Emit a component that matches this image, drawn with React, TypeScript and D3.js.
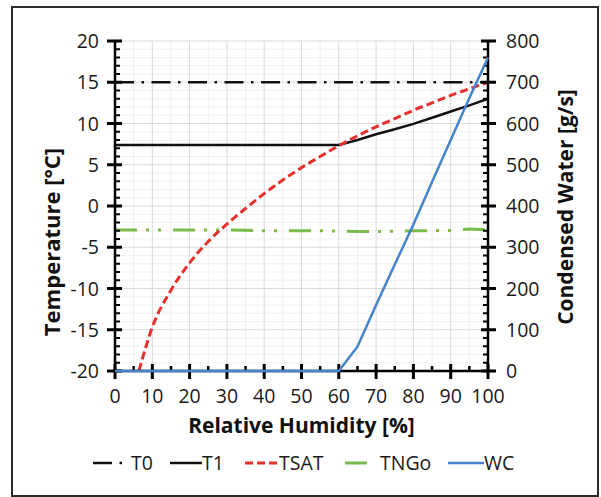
import React from 'react';
import * as d3 from 'd3';

// relative humidity steps [%]
const rh = [0, 5, 10, 15, 20, 25, 30, 35, 40, 45, 50, 55, 60, 65, 70, 75, 80, 85, 90, 95, 100];
const t0 = [15, 15, 15, 15, 15, 15, 15, 15, 15, 15, 15, 15, 15, 15, 15, 15, 15, 15, 15, 15, 15];
const t1 = [7.4, 7.4, 7.4, 7.4, 7.4, 7.4, 7.4, 7.4, 7.4, 7.4, 7.4, 7.4, 7.4, 8.0, 8.7, 9.3, 9.95, 10.7, 11.45, 12.2, 13.0];
const tngo = [-2.9, -2.9, -2.9, -2.9, -2.9, -2.9, -2.9, -2.95, -3, -3, -3, -3, -3.05, -3.1, -3.1, -3.05, -3, -3, -2.95, -2.8, -2.9];
const wc = [0, 0, 0, 0, 0, 0, 0, 0, 0, 0, 0, 0, 0, 59, 160, 258, 355, 458, 560, 662, 760];
// saturation temperature starts where it leaves the -20 floor
const tsatRh = [6.4, 10, 15, 20, 25, 30, 35, 40, 45, 50, 55, 60, 65, 70, 75, 80, 85, 90, 95, 100];
const tsat = [-20, -14.7, -10.2, -6.9, -4.3, -2.2, -0.3, 1.5, 3.15, 4.65, 6.0, 7.3, 8.5, 9.6, 10.6, 11.6, 12.5, 13.4, 14.2, 15.0];

const xTicks = [0, 10, 20, 30, 40, 50, 60, 70, 80, 90, 100];
const yLeftTicks = [-20, -15, -10, -5, 0, 5, 10, 15, 20];
const yRightTicks = [0, 100, 200, 300, 400, 500, 600, 700, 800];

const seriesStyle = [
  { name: 'T0', color: '#111', dash: '19,7.5,2.5,7.5', width: 2.5 },
  { name: 'T1', color: '#111', dash: null, width: 2.5 },
  { name: 'TSAT', color: '#e5302c', dash: '8,4', width: 3 },
  { name: 'TNGo', color: '#7bbb4c', dash: '22,9,3,9,3,12', width: 3 },
  { name: 'WC', color: '#4583cb', dash: null, width: 2.5 },
];

const font = '"Open Sans", sans-serif';

export default function App() {
  const width = 601;
  const height = 497;
  const left = 115, right = 488, top = 41, bottom = 371;

  const x = d3.scaleLinear().domain([0, 100]).range([left, right]);
  const y = d3.scaleLinear().domain([-20, 20]).range([bottom, top]);
  const y2 = d3.scaleLinear().domain([0, 800]).range([bottom, top]);

  const lineT = d3.line<[number, number]>().x(d => x(d[0])).y(d => y(d[1]));
  const lineW = d3.line<[number, number]>().x(d => x(d[0])).y(d => y2(d[1]));
  const lineSmooth = d3.line<[number, number]>().x(d => x(d[0])).y(d => y(d[1])).curve(d3.curveMonotoneX);

  const zip = (a: number[], b: number[]) => a.map((v, i) => [v, b[i]] as [number, number]);

  const minorX = d3.range(0, 101, 5).filter(v => v % 10 !== 0);
  const minorY = d3.range(-20, 21, 1).filter(v => v % 5 !== 0);
  const minorY2 = d3.range(0, 801, 20).filter(v => v % 100 !== 0);

  // legend slots: symbol start, symbol length, text start
  const legend = [
    { sx: 93, len: 32, tx: 131 },
    { sx: 170, len: 32, tx: 202 },
    { sx: 245, len: 33, tx: 279 },
    { sx: 345, len: 23, tx: 380 },
    { sx: 448, len: 36, tx: 484 },
  ];

  return (
    <svg width={width} height={height} style={{ position: 'absolute', left: 0, top: 0 }} fontFamily={font}>
      <rect x={0} y={0} width={width} height={height} fill="#fff" />
      <rect x={12} y={7} width={586} height={489} fill="none" stroke="#2a2a2a" strokeWidth={2} />

      {/* grid */}
      {minorX.map(v => <line key={'gx' + v} x1={x(v)} x2={x(v)} y1={top} y2={bottom} stroke="#efefef" strokeWidth={1} />)}
      {minorY.map(v => <line key={'gy' + v} x1={left} x2={right} y1={y(v)} y2={y(v)} stroke="#f1f1f1" strokeWidth={1} />)}
      {xTicks.map(v => <line key={'GX' + v} x1={x(v)} x2={x(v)} y1={top} y2={bottom} stroke="#d9d9d9" strokeWidth={1} />)}
      {yLeftTicks.map(v => <line key={'GY' + v} x1={left} x2={right} y1={y(v)} y2={y(v)} stroke="#d9d9d9" strokeWidth={1} />)}

      {/* series */}
      <path d={lineT(zip(rh, t0)) || ''} fill="none" stroke={seriesStyle[0].color} strokeWidth={2.5} strokeDasharray={seriesStyle[0].dash!} />
      <path d={lineT(zip(rh, tngo)) || ''} fill="none" stroke={seriesStyle[3].color} strokeWidth={3} strokeDasharray={seriesStyle[3].dash!} />
      <path d={lineT(zip(rh, t1)) || ''} fill="none" stroke={seriesStyle[1].color} strokeWidth={2.5} />
      <path d={lineSmooth(zip(tsatRh, tsat)) || ''} fill="none" stroke={seriesStyle[2].color} strokeWidth={3} strokeDasharray={seriesStyle[2].dash!} />

      {/* axes */}
      <g stroke="#000">
        <line x1={left} x2={left} y1={top - 1} y2={bottom + 1} strokeWidth={2.5} />
        <line x1={right} x2={right} y1={top - 1} y2={bottom + 1} strokeWidth={2.5} />
        <line x1={left} x2={right} y1={bottom} y2={bottom} strokeWidth={2.5} />
        {minorY.map(v => <line key={'my' + v} x1={left} x2={left + 5} y1={y(v)} y2={y(v)} strokeWidth={2} />)}
        {yLeftTicks.map(v => <line key={'My' + v} x1={left - 8} x2={left + 7} y1={y(v)} y2={y(v)} strokeWidth={3} />)}
        {minorY2.map(v => <line key={'my2' + v} x1={right - 5} x2={right} y1={y2(v)} y2={y2(v)} strokeWidth={2} />)}
        {yRightTicks.map(v => <line key={'My2' + v} x1={right - 7} x2={right + 8} y1={y2(v)} y2={y2(v)} strokeWidth={3} />)}
        {minorX.map(v => <line key={'mx' + v} x1={x(v)} x2={x(v)} y1={bottom - 5} y2={bottom} strokeWidth={2.5} />)}
        {xTicks.map(v => <line key={'Mx' + v} x1={x(v)} x2={x(v)} y1={bottom - 7} y2={bottom + 8} strokeWidth={3} />)}
      </g>

      <path d={lineW(zip(rh, wc)) || ''} fill="none" stroke={seriesStyle[4].color} strokeWidth={2.5} />

      {/* tick labels */}
      <g fontSize={19.5} fill="#1a1a1a">
        {yLeftTicks.map(v => (
          <text key={'ly' + v} x={99} y={y(v)} dy="0.36em" textAnchor="end">{v}</text>
        ))}
        {yRightTicks.map(v => (
          <text key={'ry' + v} x={506} y={y2(v)} dy="0.36em" textAnchor="start">{v}</text>
        ))}
        {xTicks.map(v => (
          <text key={'lx' + v} x={x(v)} y={403} textAnchor="middle">{v}</text>
        ))}
      </g>

      {/* titles */}
      <g fontSize={21} fontWeight="bold" fill="#111">
        <text x={x(50)} y={433} textAnchor="middle">Relative Humidity [%]</text>
        <text transform="translate(60,242) rotate(-90)" textAnchor="middle" fontSize={22}>Temperature [°C]</text>
        <text transform="translate(573,207) rotate(-90)" textAnchor="middle">Condensed Water [g/s]</text>
      </g>

      {/* legend */}
      <g fontSize={19.5} fill="#1a1a1a">
        {seriesStyle.map((s, i) => (
          <g key={s.name}>
            <line x1={legend[i].sx} x2={legend[i].sx + legend[i].len} y1={463} y2={463} stroke={s.color} strokeWidth={s.width}
              strokeDasharray={s.dash || undefined} />
            <text x={legend[i].tx} y={470}>{s.name}</text>
          </g>
        ))}
      </g>
    </svg>
  );
}
